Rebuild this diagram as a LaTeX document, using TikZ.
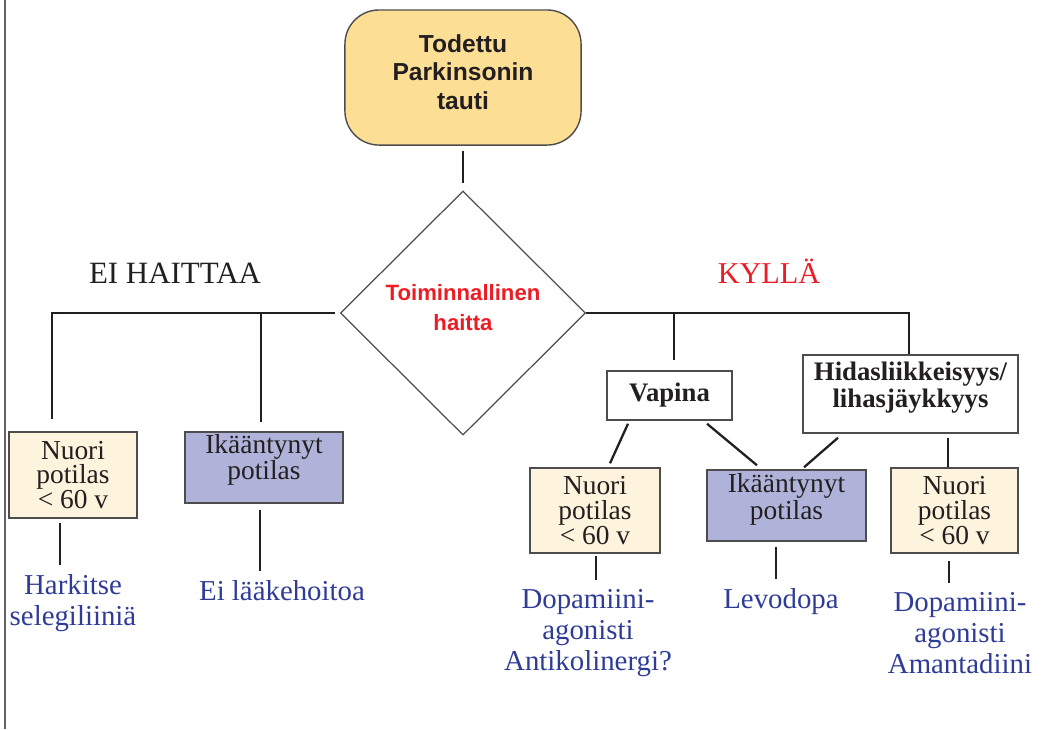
\documentclass[tikz,border=0pt]{standalone}
\usepackage{fontspec}
\setmainfont{Liberation Serif}
\newfontfamily\hdfont{Liberation Sans}
\usepackage{tikz}
\usetikzlibrary{shapes.geometric}
\definecolor{topyel}{HTML}{FCDF94}
\definecolor{creamY}{HTML}{FEF3DC}
\definecolor{lavB}{HTML}{AFB3DA}
\definecolor{txtblue}{HTML}{2E3C96}
\definecolor{txtred}{HTML}{ED1C24}
\definecolor{ink}{HTML}{231F20}
% text block raised inside a fixed-size box
\newcommand{\stackc}[2]{\raisebox{#1}[0pt][0pt]{\begin{tabular}{@{}c@{}}#2\end{tabular}}}

\begin{document}
\begin{tikzpicture}[x=0.01cm, y=-0.01cm,
  b/.style={draw=ink!80, line width=0.4pt, align=center, inner sep=0pt, text=ink, font=\fontsize{7.8}{7}\selectfont},
  Y/.style={b, fill=creamY}, P/.style={b, fill=lavB},
  W/.style={b, fill=white, font=\bfseries\fontsize{7.6}{7.4}\selectfont},
  rx/.style={align=center, inner sep=0pt, text=txtblue, font=\fontsize{8.2}{8.8}\selectfont},
  ln/.style={line width=0.65pt, draw=ink}]
 \useasboundingbox (0,0) rectangle (1043,729);
 \draw[line width=0.5pt, ink!70] (5,0) -- (5,729);
 % start and question
 \node[b, fill=topyel, rounded corners=0.34cm, minimum width=2.36cm, minimum height=1.35cm,
   font=\hdfont\bfseries\fontsize{7}{8.2}\selectfont] (top) at (463,77.5) {\stackc{-1.1pt}{Todettu\\Parkinsonin\\tauti}};
 \node[draw=ink!80, line width=0.35pt, shape=diamond, minimum width=2.45cm, minimum height=2.44cm,
   inner sep=0pt, text=txtred, font=\hdfont\bfseries\fontsize{6.3}{8.5}\selectfont]
   (dia) at (463,313) {\stackc{-0.5pt}{Toiminnallinen\\haitta}};
 \draw[ln, shorten <=1.4pt, shorten >=2pt] (top) -- (dia);
 \node[text=ink, font=\fontsize{8.8}{10}\selectfont] (ei) at (175,273) {EI HAITTAA};
 \node[text=txtred, font=\fontsize{8.6}{10}\selectfont] (ky) at (769,271) {KYLLÄ};
 % no disability (left)
 \node[Y, minimum width=1.28cm, minimum height=0.86cm] (nl) at (73,475) {Nuori\\potilas\\< 60 v};
 \node[P, minimum width=1.58cm, minimum height=0.71cm] (ik1) at (264,467.5) {\stackc{0pt}{Ikääntynyt\\potilas}};
 \node[rx] (t1) at (73,603) {Harkitse\\selegiliiniä};
 \node[rx] (t2) at (282,591) {Ei lääkehoitoa};
 \coordinate (lk) at (52,313);
 \coordinate (lm) at (261,313);
 \draw[ln, shorten <=1.4pt, shorten >=3.4pt] (dia.west) -- (lk) -- (lk |- nl.north);
 \draw[ln, shorten >=2.6pt] (lm) -- (lm |- ik1.north);
 \draw[ln, shorten <=1.1pt, shorten >=2.5pt] ([shift={(-13,0)}]nl.south) -- ([shift={(-13,0)}]nl.south |- t1.north);
 \draw[ln, shorten <=1.7pt, shorten >=2.5pt] ([shift={(-4,0)}]ik1.south) -- ([shift={(-4,0)}]ik1.south |- t2.north);
 % disability (right)
 \node[W, minimum width=1.25cm, minimum height=0.49cm] (vap) at (669.5,395.5) {Vapina};
 \node[W, minimum width=2.15cm, minimum height=0.78cm] (hid) at (910.5,394) {\stackc{-0.45pt}{Hidasliikkeisyys/\\lihasjäykkyys}};
 \node[Y, minimum width=1.30cm, minimum height=0.85cm] (nm) at (595,510.5) {Nuori\\potilas\\< 60 v};
 \node[P, minimum width=1.59cm, minimum height=0.71cm] (im) at (786.5,505.5) {\stackc{-0.45pt}{Ikääntynyt\\potilas}};
 \node[Y, minimum width=1.27cm, minimum height=0.85cm] (nr) at (954.5,510.5) {Nuori\\potilas\\< 60 v};
 \node[rx] (t3) at (588,633) {Dopamiini-\\agonisti\\Antikolinergi?};
 \node[rx] (t4) at (781,602) {Levodopa};
 \node[rx] (t5) at (960,633) {Dopamiini-\\agonisti\\Amantadiini};
 \coordinate (rk) at (909,313);
 \coordinate (rv) at (674,313);
 \draw[ln] (dia.east) -- (rk) -- (rk |- hid.north);
 \draw[ln, shorten >=2.8pt] (rv) -- (rv |- vap.north);
 \draw[ln] ([shift={(-41.5,3)}]vap.south) -- ([shift={(15,-4)}]nm.north);
 \draw[ln] ([shift={(37.5,3)}]vap.south) -- ([shift={(-29.5,-4)}]im.north);
 \draw[ln] ([shift={(-72.5,4)}]hid.south) -- ([shift={(17.5,-2)}]im.north);
 \draw[ln] ([shift={(37.5,4)}]hid.south) -- ([shift={(37.5,0)}]hid.south |- nr.north);
 \draw[ln, shorten <=0.6pt, shorten >=2.5pt] ([shift={(1,0)}]nm.south) -- ([shift={(1,0)}]nm.south |- t3.north);
 \draw[ln, shorten <=1.4pt, shorten >=2.5pt] ([shift={(-10.5,0)}]im.south) -- ([shift={(-10.5,0)}]im.south |- t4.north);
 \draw[ln, shorten <=2pt, shorten >=2.5pt] ([shift={(-5.5,0)}]nr.south) -- ([shift={(-5.5,0)}]nr.south |- t5.north);
\end{tikzpicture}
\end{document}
